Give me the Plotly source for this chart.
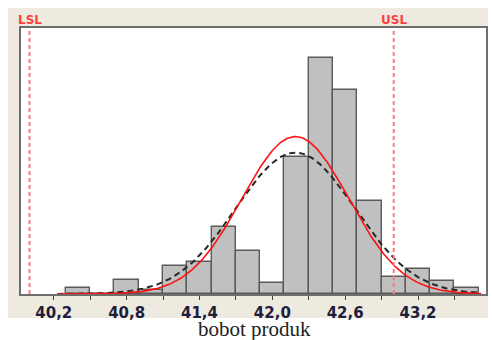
import numpy as np
import plotly.graph_objects as go

# Histogram bins (centers) and densities
bin_centers = [40.4, 40.6, 40.8, 41.0, 41.2, 41.4, 41.6, 41.8, 42.0,
               42.2, 42.4, 42.6, 42.8, 43.0, 43.2, 43.4, 43.6]
densities = [0.036, 0.0, 0.079, 0.023, 0.161, 0.186, 0.384, 0.249, 0.062,
             0.789, 1.359, 1.175, 0.536, 0.100, 0.142, 0.077, 0.035]
bin_width = 0.2

# Fitted normal parameters
mean = 42.19
sigma_within = 0.44
sigma_overall = 0.49

LSL = 40.0
USL = 43.0

tick_vals = [40.2, 40.8, 41.4, 42.0, 42.6, 43.2]
tick_text = ["40,2", "40,8", "41,4", "42,0", "42,6", "43,2"]
minor_vals = [40.5, 41.1, 41.7, 42.3, 42.9, 43.5]

xs = np.linspace(40.23, 43.72, 300)


def npdf(x, m, s):
    return np.exp(-0.5 * ((x - m) / s) ** 2) / (s * np.sqrt(2 * np.pi))


fig = go.Figure()
fig.add_trace(go.Bar(x=bin_centers, y=densities, width=bin_width,
                     marker=dict(color="#C0C0C0", line=dict(color="#5A5A5A", width=1.4)),
                     showlegend=False, hoverinfo="skip"))
fig.add_trace(go.Scatter(x=xs, y=npdf(xs, mean, sigma_overall), mode="lines",
                         line=dict(color="#2A2A2A", width=2, dash="6px,4px"), showlegend=False))
fig.add_trace(go.Scatter(x=xs, y=npdf(xs, mean, sigma_within), mode="lines",
                         line=dict(color="#FF1010", width=1.6), showlegend=False))

for v in (LSL, USL):
    fig.add_shape(type="line", x0=v, x1=v, xref="x", yref="paper", y0=0, y1=1,
                  line=dict(color="#FF7A7A", width=2, dash="4px,3px"))

fig.add_shape(type="rect", xref="paper", yref="paper", x0=-0.0278, x1=1.0043,
              y0=-0.0902, y1=1.075, fillcolor="#EEEAE0", line=dict(width=0), layer="below")
fig.add_shape(type="rect", xref="paper", yref="paper", x0=0, x1=1,
              y0=0, y1=1, fillcolor="white", line=dict(width=0), layer="below")

for v, lab in ((LSL, "LSL"), (USL, "USL")):
    fig.add_annotation(x=v, xref="x", y=1.0, yref="paper", yanchor="bottom", yshift=-1,
                       text=lab, showarrow=False,
                       font=dict(family="DejaVu Sans", size=12, color="#FF4040", weight="bold"))
fig.add_annotation(x=0.503, xref="paper", y=-0.131, yref="paper", yanchor="middle",
                   text="bobot produk", showarrow=False,
                   font=dict(family="Liberation Serif", size=21, color="#222222"))

fig.update_layout(
    width=492, height=340,
    margin=dict(l=21, r=4, t=28, b=46),
    paper_bgcolor="white", plot_bgcolor="rgba(0,0,0,0)",
    bargap=0,
    xaxis=dict(range=[39.93, 43.76], tickvals=tick_vals, ticktext=tick_text,
               ticks="outside", ticklen=4, tickcolor="#444", tickwidth=1,
               minor=dict(tickvals=minor_vals, ticks="outside",
                          ticklen=4, tickcolor="#444"),
               showline=True, linecolor="#6E6E6E", linewidth=2, mirror=True,
               showgrid=False, zeroline=False,
               tickfont=dict(family="DejaVu Sans", size=15, color="#1E1E3C", weight="bold")),
    yaxis=dict(range=[0, 1.532], showticklabels=False, ticks="",
               showline=True, linecolor="#6E6E6E", linewidth=2, mirror=True,
               showgrid=False, zeroline=False),
)

fig.write_html("out.html", config={"displayModeBar": False},
               post_script="document.body.style.margin='0';")
